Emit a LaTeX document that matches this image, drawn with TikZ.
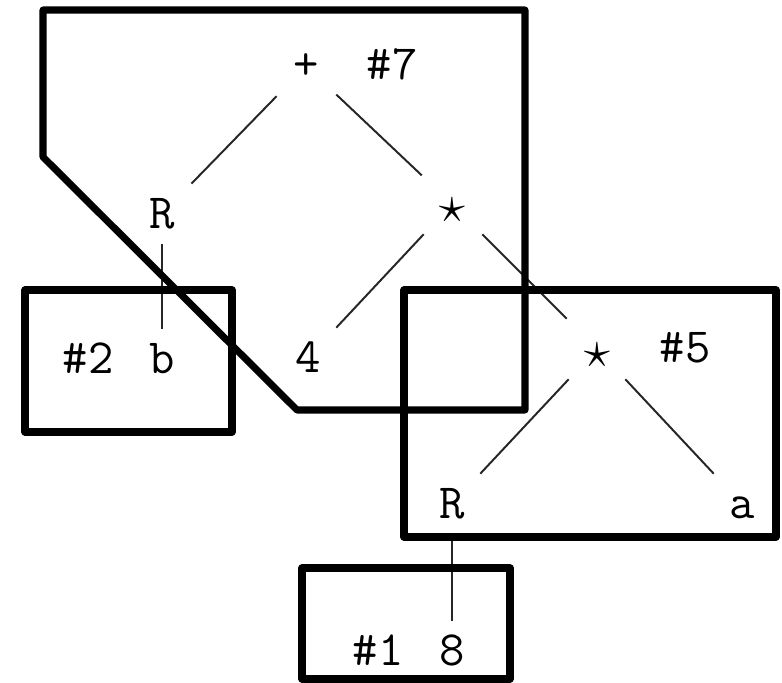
\documentclass[tikz,border=0pt]{standalone}
\usepackage{fontspec}
\usepackage{graphicx}
\usepackage{tikz}

\tikzset{
  tn/.style={font=\ttfamily\fontsize{35}{42}\selectfont, minimum size=1.5cm,
    inner sep=0pt, text height=20pt, text depth=0pt, anchor=base},
  lbl/.style={font=\ttfamily\fontsize{35}{42}\selectfont, inner sep=0pt, anchor=base},
  edge/.style={line width=1.4pt, black!85},
  region/.style={line width=5pt, line join=round}
}
\newcommand{\opstar}{\raisebox{-3pt}{\scalebox{1.5}{$\star$}}}

\begin{document}
\begin{tikzpicture}[x=0.025cm,y=-0.025cm] % one unit = one pixel, y downwards
\useasboundingbox (0,0) rectangle (782,683);
% tree
\node[tn] (plus) at (306,80) {+};
\node[tn] (r1) at (162,228) {R};
\node[tn] (st1) at (452,218) {\opstar};
\node[tn] (four) at (308,372) {4};
\node[tn] (b) at (162,373) {b};
\node[tn] (st2) at (597,363) {\opstar};
\node[tn] (r2) at (452,518) {R};
\node[tn] (a) at (742,518) {a};
\node[tn] (eight) at (452,665) {8};
\draw[edge] (plus) -- (r1);
\draw[edge] (plus) -- (st1);
\draw[edge] (r1) -- (b);
\draw[edge] (st1) -- (four);
\draw[edge] (st1) -- (st2);
\draw[edge] (st2) -- (r2);
\draw[edge] (st2) -- (a);
\draw[edge] (r2) -- (eight);
% numbers of the regions
\node[lbl] (n7) at (392,80) {\#7};
\node[lbl] (n5) at (685,362) {\#5};
\node[lbl] (n2) at (88,373) {\#2};
\node[lbl] (n1) at (378,665) {\#1};
% regions
\draw[region] (43,157) -- (43,10) -- (525,10) -- (525,410) -- (297,410) -- cycle;
\draw[region] (25,290) rectangle (232,432);
\draw[region] (404,290) rectangle (776,537);
\draw[region] (302,568) rectangle (510,679);
\end{tikzpicture}
\end{document}
